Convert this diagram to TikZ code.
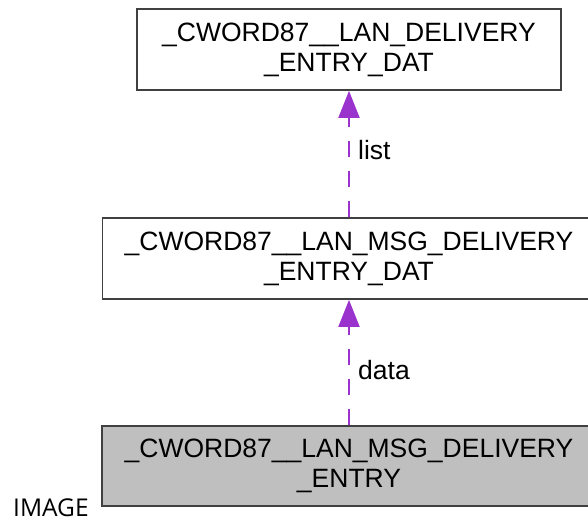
\documentclass[tikz,border=0pt]{standalone}
\usepackage{fontspec}
\setmainfont{Liberation Sans}
\newfontfamily\imgfont{Open Sans}
\usetikzlibrary{arrows.meta}
\definecolor{edgepurple}{HTML}{9A32CD}
\definecolor{boxgray}{HTML}{BFBFBF}
\definecolor{boxline}{HTML}{404040}
\tikzset{
  classbox/.style={draw=boxline, line width=1.8pt, fill=white, rectangle, inner sep=0pt,
    minimum height=81pt, align=center, font=\fontsize{26.5}{30}\selectfont},
  curbox/.style={classbox, fill=boxgray},
  usage/.style={draw=edgepurple, line width=2pt, dash pattern=on 16pt off 14pt,
    -{Triangle[length=27pt,width=21pt,fill=edgepurple]}},
  edgelabel/.style={anchor=base west, inner sep=0pt, font=\fontsize{26.5}{30}\selectfont}
}
\begin{document}
\begin{tikzpicture}
\clip (0pt,0pt) rectangle (588pt,-521pt);
\fill[white] (0pt,0pt) rectangle (588pt,-521pt);
\node[classbox, minimum width=424pt] (top) at (349pt,-49.5pt) {\_CWORD87\_\_LAN\_DELIVERY\\\_ENTRY\_DAT};
\node[classbox, minimum width=493pt] (mid) at (349pt,-258.5pt) {\_CWORD87\_\_LAN\_MSG\_DELIVERY\\\_ENTRY\_DAT};
\node[curbox, minimum width=494pt, minimum height=80pt] (bot) at (349pt,-466pt) {\_CWORD87\_\_LAN\_MSG\_DELIVERY\\\_ENTRY};
\draw[usage] (mid) -- (top);
\draw[usage] (bot) -- (mid);
\node[edgelabel] (lbllist) at (358pt,-160pt) {list};
\node[edgelabel] (lbldata) at (358pt,-379pt) {data};
\node[anchor=base west, inner sep=0pt, font=\imgfont\fontsize{24.5}{27}\selectfont] (imglabel) at (13pt,-516pt) {IMAGE};
\end{tikzpicture}
\end{document}
